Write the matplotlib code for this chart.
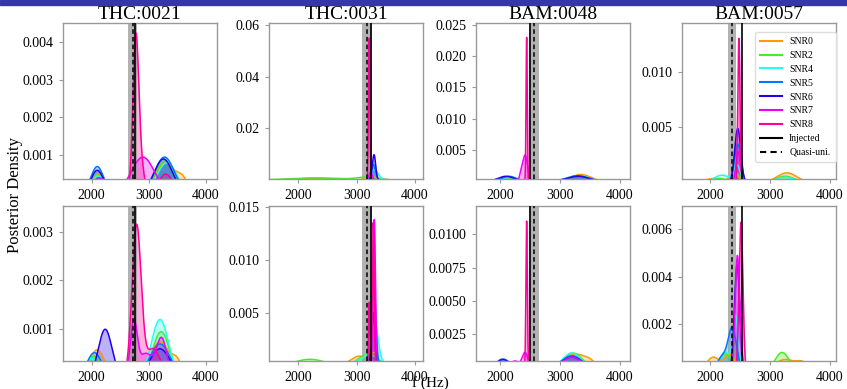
import numpy as np
import matplotlib
matplotlib.use("Agg")
import matplotlib.pyplot as plt
from matplotlib.patches import Rectangle

plt.rcParams['font.family'] = ['Liberation Serif', 'DejaVu Serif']

# ---------------- data ----------------
labels = ["SNR0", "SNR2", "SNR4", "SNR5", "SNR6", "SNR7", "SNR8"]
colors = ["#ff9900", "#44ee22", "#22ffee", "#0077ff", "#2200ee", "#ee00ff", "#ff0099"]
titles = ["THC:0021", "THC:0031", "BAM:0048", "BAM:0057"]

# injected frequency, quasi-universal estimate and its half band width (Hz)
injected = [2770, 3245, 2500, 2530]
quasi_uni = [2722, 3178, 2568, 2365]
quasi_err = [78, 80, 87, 72]

xlims = [(1500, 4200), (1500, 4140), (1600, 4170), (1530, 4100)]
xticks = [2000, 3000, 4000]

# peak read-offs of each posterior: (centre Hz, width Hz, height)
thc0021_a = [
    [(2120, 120, 0.0005), (3300, 170, 0.0008), (3600, 90, 0.0003)],
    [(2080, 120, 0.00048), (3280, 160, 0.00085)],
    [(2120, 130, 0.00045), (3320, 170, 0.0008)],
    [(2100, 110, 0.0007), (3280, 170, 0.00095)],
    [(2100, 110, 0.0006), (3260, 160, 0.0009)],
    [(2140, 110, 0.0004), (2900, 200, 0.00095)],
    [(2775, 50, 0.0038), (2850, 65, 0.0008), (3300, 120, 0.0005)],
]
thc0031_a = [
    [(2300, 350, 0.0007), (3250, 80, 0.0015)],
    [(2300, 450, 0.0008), (3200, 180, 0.0011)],
    [(3300, 70, 0.004)],
    [(3290, 35, 0.006)],
    [(3300, 28, 0.0098)],
    [(3240, 28, 0.003)],
    [(3218, 12, 0.055)],
]
bam0048_a = [
    [(2150, 130, 0.0006), (3350, 160, 0.0011)],
    [(2100, 130, 0.0006), (3300, 170, 0.0009)],
    [(2150, 140, 0.0006), (3300, 180, 0.0009)],
    [(2150, 120, 0.0008), (3300, 170, 0.0009)],
    [(2100, 130, 0.0008), (3300, 180, 0.0008)],
    [(2420, 40, 0.0042), (2350, 25, 0.001)],
    [(2445, 10, 0.023)],
]
bam0057_a = [
    [(2050, 130, 0.0004), (2400, 80, 0.0008), (3280, 170, 0.0009)],
    [(2150, 130, 0.0004), (2450, 50, 0.0008), (3250, 160, 0.0006)],
    [(2200, 140, 0.0007), (2450, 50, 0.0015), (3250, 160, 0.0005)],
    [(2460, 55, 0.0035)],
    [(2460, 50, 0.0049)],
    [(2470, 38, 0.0028)],
    [(2480, 18, 0.013)],
]
thc0021_b = [
    [(2100, 130, 0.00058), (3200, 160, 0.00075), (3500, 90, 0.0003)],
    [(2050, 120, 0.00045), (3220, 150, 0.00095)],
    [(2000, 110, 0.0004), (3200, 150, 0.0012)],
    [(2050, 130, 0.00052), (3200, 180, 0.0007)],
    [(2240, 120, 0.001), (3200, 180, 0.0006)],
    [(2740, 60, 0.0011), (2950, 120, 0.0005), (3230, 90, 0.0008)],
    [(2790, 80, 0.0031), (3080, 130, 0.0006)],
]
thc0031_b = [
    [(3050, 150, 0.0009), (3300, 60, 0.001)],
    [(2200, 250, 0.0006), (3200, 160, 0.0011)],
    [(3300, 60, 0.004), (3200, 180, 0.0008)],
    [(3295, 35, 0.008)],
    [(3290, 30, 0.005)],
    [(3305, 20, 0.0138)],
    [(3287, 16, 0.0135), (3218, 11, 0.006)],
]
bam0048_b = [
    [(2050, 130, 0.0004), (3250, 160, 0.001), (3500, 100, 0.0004)],
    [(2050, 130, 0.0004), (3220, 150, 0.0011)],
    [(2050, 130, 0.0005), (3200, 150, 0.0011)],
    [(2050, 110, 0.00065), (3200, 160, 0.0009)],
    [(2050, 110, 0.0006), (3200, 160, 0.0008)],
    [(2420, 45, 0.0011), (2250, 80, 0.0005), (3200, 150, 0.0008)],
    [(2445, 12, 0.011)],
]
bam0057_b = [
    [(2050, 110, 0.0006), (2330, 90, 0.0007), (3250, 180, 0.0005), (3550, 100, 0.0003)],
    [(2250, 110, 0.00075), (3200, 120, 0.0008)],
    [(2425, 45, 0.0022), (2250, 100, 0.0008)],
    [(2370, 70, 0.0018), (2200, 80, 0.0006)],
    [(2450, 45, 0.0045)],
    [(2455, 38, 0.0049)],
    [(2515, 32, 0.0063)],
]
rows_data = [[thc0021_a, thc0031_a, bam0048_a, bam0057_a],
             [thc0021_b, thc0031_b, bam0048_b, bam0057_b]]

ylims = [[(0.00037, 0.0045), (0.0004, 0.0607), (0.00037, 0.0253), (0.00035, 0.01438)],
         [(0.00035, 0.00353), (0.00044, 0.0151), (0.0005, 0.01215), (0.00044, 0.0070)]]
yticks = [[[0.001, 0.002, 0.003, 0.004], [0.02, 0.04, 0.06],
           [0.005, 0.010, 0.015, 0.020, 0.025], [0.005, 0.010]],
          [[0.001, 0.002, 0.003], [0.005, 0.010, 0.015],
           [0.0025, 0.0050, 0.0075, 0.0100], [0.002, 0.004, 0.006]]]
yticklabels = [[["0.001", "0.002", "0.003", "0.004"], ["0.02", "0.04", "0.06"],
                ["0.005", "0.010", "0.015", "0.020", "0.025"], ["0.005", "0.010"]],
               [["0.001", "0.002", "0.003"], ["0.005", "0.010", "0.015"],
                ["0.0025", "0.0050", "0.0075", "0.0100"], ["0.002", "0.004", "0.006"]]]

# ---------------- figure ----------------
W, H = 847, 389
fig = plt.figure(figsize=(W / 100, H / 100), dpi=100)
fig.patches.append(Rectangle((0, 1 - 5 / H), 1, 5 / H, transform=fig.transFigure,
                             color="#3535b0", zorder=0))

lefts = [63, 269, 476, 682]
axw = 154
tops = [23, 205.7]
axh = [156, 155.3]

spine_col = "#999999"

def density(x, comps):
    y = np.zeros_like(x)
    for mu, s, h in comps:
        y += h * np.exp(-0.5 * ((x - mu) / s) ** 2)
    return y

for r in range(2):
    for c in range(4):
        ax = fig.add_axes([lefts[c] / W, 1 - (tops[r] + axh[r]) / H, axw / W, axh[r] / H])
        x = np.linspace(xlims[c][0], xlims[c][1], 1500)
        for k in range(7):
            y = density(x, rows_data[r][c][k])
            ax.fill_between(x, 0, y, color=colors[k], alpha=0.3, lw=0)
            ax.plot(x, y, color=colors[k], lw=1.1, label=labels[k])
        ax.axvspan(quasi_uni[c] - quasi_err[c], quasi_uni[c] + quasi_err[c],
                   color="#999999", alpha=0.75, lw=0, zorder=1)
        ax.axvline(injected[c], color="black", lw=1.2, label="Injected", zorder=4)
        ax.axvline(quasi_uni[c], color="black", lw=1.1, ls=(0, (3, 2)),
                   label="Quasi-uni.", zorder=4)
        ax.set_xlim(*xlims[c])
        ax.set_ylim(*ylims[r][c])
        ax.set_xticks(xticks)
        ax.set_xticklabels([str(t) for t in xticks])
        ax.set_yticks(yticks[r][c])
        ax.set_yticklabels(yticklabels[r][c])
        ax.tick_params(labelsize=10, length=3, width=0.8, color=spine_col, pad=4)
        for sp in ax.spines.values():
            sp.set_color(spine_col)
            sp.set_linewidth(1.0)
        if r == 0:
            ax.set_title(titles[c], fontsize=14, pad=1)
        if r == 0 and c == 3:
            leg = ax.legend(loc="upper right", bbox_to_anchor=(1.03, 0.975), fontsize=7.0,
                            labelspacing=0.5, handlelength=2.3, borderpad=0.55,
                            handletextpad=0.7, framealpha=1, edgecolor="#dddddd",
                            fancybox=True)
            for line in leg.get_lines():
                line.set_linewidth(1.5)

fig.text(15 / W, 1 - 195 / H, "Posterior Density", rotation=90, ha="center", va="center",
         fontsize=12)
fig.text(430 / W, 1 - 383 / H, "f (Hz)", ha="center", va="center", fontsize=11)

fig.savefig("out.png", dpi=100)
